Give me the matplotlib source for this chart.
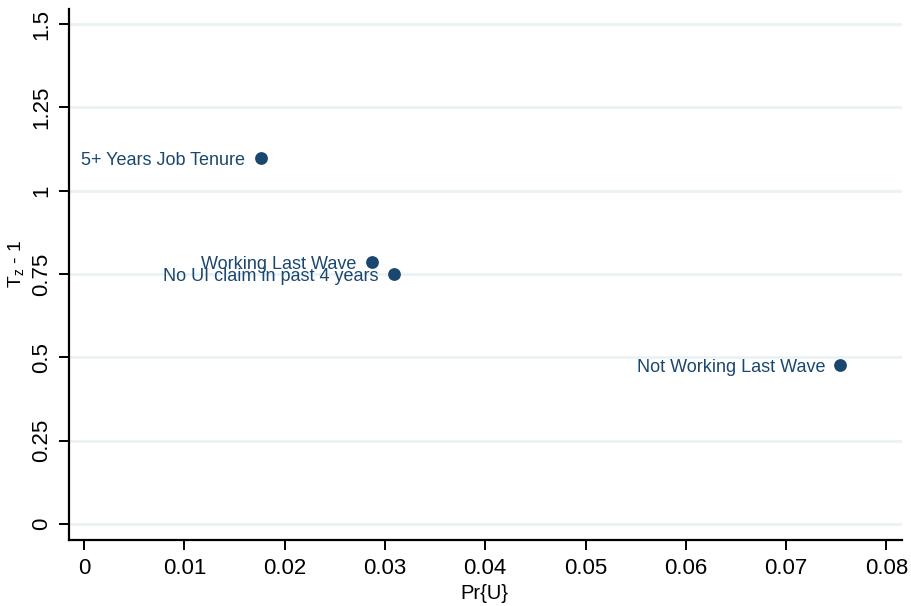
import numpy as np
import matplotlib
matplotlib.use('Agg')
import matplotlib.pyplot as plt

# values
labels = ['5+ Years Job Tenure', 'Working Last Wave',
          'No UI claim in past 4 years', 'Not Working Last Wave']
pr_u = [0.0176, 0.0287, 0.0309, 0.0754]
tz_minus_1 = [1.098, 0.786, 0.750, 0.476]

x_ticks = [0, 0.01, 0.02, 0.03, 0.04, 0.05, 0.06, 0.07, 0.08]
x_ticklabels = ['0', '0.01', '0.02', '0.03', '0.04', '0.05', '0.06', '0.07', '0.08']
y_ticks = [0, 0.25, 0.5, 0.75, 1, 1.25, 1.5]
y_ticklabels = ['0', '0.25', '0.5', '0.75', '1', '1.25', '1.5']

navy = '#1a476f'
grid_col = '#eaf2f3'

plt.rcParams['font.family'] = ['Liberation Sans', 'DejaVu Sans']
plt.rcParams['mathtext.fontset'] = 'custom'
plt.rcParams['mathtext.rm'] = 'Liberation Sans'
plt.rcParams['mathtext.it'] = 'Liberation Sans'

fig = plt.figure(figsize=(9.12, 6.06), dpi=100)
ax = fig.add_axes([69/912, 1 - 540/606, (902 - 69)/912, (540 - 9)/606])

ax.scatter(pr_u, tz_minus_1, s=85, color=navy, zorder=3, linewidths=0)
for lab, xv, yv in zip(labels, pr_u, tz_minus_1):
    ax.annotate(lab, (xv, yv), xytext=(-11, -1.5), textcoords='offset points',
                ha='right', va='center', fontsize=13, color=navy)

ax.set_xlim(-0.0015, 0.08155)
ax.set_ylim(-0.048, 1.545)
ax.set_xticks(x_ticks)
ax.set_xticklabels(x_ticklabels)
ax.set_yticks(y_ticks)
ax.set_yticklabels(y_ticklabels, rotation=90, va='center')

ax.grid(axis='y', color=grid_col, linewidth=2)
ax.set_axisbelow(True)
for side in ['top', 'right']:
    ax.spines[side].set_visible(False)
for side in ['left', 'bottom']:
    ax.spines[side].set_linewidth(1.6)

ax.tick_params(axis='both', length=7, width=1.4, labelsize=16)
ax.tick_params(axis='x', pad=6)
ax.tick_params(axis='y', pad=5)

ax.set_xlabel('Pr{U}', fontsize=14.5)
ax.set_ylabel('T$_z$ - 1', fontsize=14)
ax.xaxis.set_label_coords(0.499, -0.083)
ax.yaxis.set_label_coords(-0.052, 0.52)

plt.savefig('out.png', dpi=100)
plt.close(fig)
